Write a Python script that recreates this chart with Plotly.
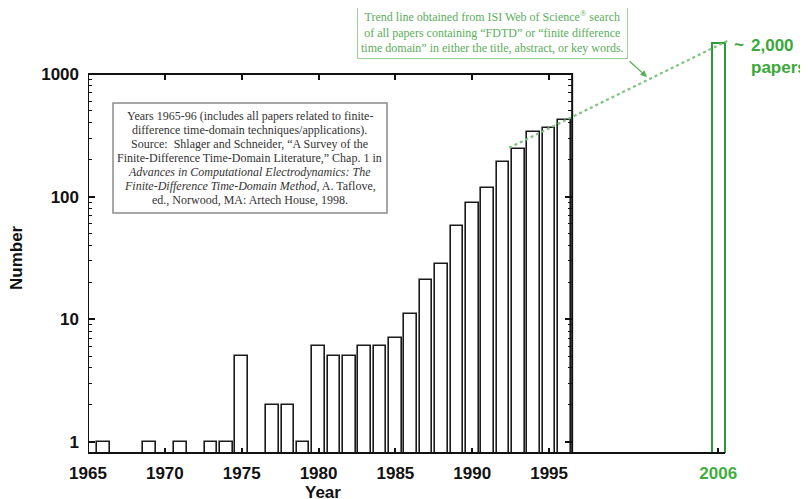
import math
import plotly.graph_objects as go

# ---------------- data ----------------
years = [1966, 1969, 1971, 1973, 1974, 1975, 1977, 1978, 1979, 1980, 1981, 1982,
         1983, 1984, 1985, 1986, 1987, 1988, 1989, 1990, 1991, 1992, 1993, 1994,
         1995, 1996]
papers = [1, 1, 1, 1, 1, 5, 2, 2, 1, 6, 5, 5,
          6, 6, 7, 11, 21, 28, 58, 88, 117, 190, 245, 338,
          365, 425]
year_2006 = [2006]
papers_2006 = [1780]
trend_x = [1992.4, 2006.7]
trend_y = [250, 1890]

x_tickvals = [1965, 1970, 1975, 1980, 1985, 1990, 1995, 2006]
x_ticktext = ["1965", "1970", "1975", "1980", "1985", "1990", "1995",
              "<span style='color:#3fae3f'>2006</span>"]
y_tickvals = [1, 10, 100, 1000]
y_ticktext = ["1", "10", "100", "1000"]
y_minor = [m * 10 ** d for d in range(0, 3) for m in range(2, 10)]

# ---------------- geometry (page pixels; page body has an 8px margin) ----------------
OFF = 8
W, H = 808 - OFF, 499 - OFF
L, R, T, B = 88, 732, 30, 453          # plot area in page pixels
PW, PH = R - L, B - T
XMIN, XMAX = 1965, 1965 + PW / 15.37
YLOW = math.log10(0.81)
YHIGH = 3 + (74 - T) / 122.6
BOX_RIGHT = 1996.5


def px_x(x):
    return (x - L) / PW


def px_y(y):
    return (B - y) / PH


GREEN = "#3aa83a"
GREEN_BAR = "#2f9a3a"
GREEN_LIGHT = "#5aae5a"
AX_FONT = dict(family="Liberation Sans, Arial", size=17, color="#111", weight="bold")

fig = go.Figure()

fig.add_trace(go.Bar(
    x=years, y=papers, width=0.82,
    marker=dict(color="white", line=dict(color="#1a1a1a", width=1.6)),
    showlegend=False, hoverinfo="x+y",
))
fig.add_trace(go.Bar(
    x=year_2006, y=papers_2006, width=0.85,
    marker=dict(color="white", line=dict(color=GREEN_BAR, width=2)),
    showlegend=False, hoverinfo="x+y",
))
fig.add_trace(go.Scatter(
    x=trend_x, y=trend_y, mode="lines",
    line=dict(color="#7cc47c", width=2.2, dash="dot"),
    showlegend=False, hoverinfo="skip",
))
# helper traces so that the extra tick axes are drawn
fig.add_trace(go.Scatter(x=[XMIN], y=[1], mode="none", yaxis="y2",
                         showlegend=False, hoverinfo="skip"))
fig.add_trace(go.Scatter(x=[XMIN], y=[1], mode="none", xaxis="x2",
                         showlegend=False, hoverinfo="skip"))

fig.update_layout(
    width=W, height=H,
    margin=dict(l=L - OFF, r=(W + OFF) - R, t=T - OFF, b=(H + OFF) - B, autoexpand=False),
    paper_bgcolor="white", plot_bgcolor="white",
    bargap=0,
    xaxis=dict(
        range=[XMIN, XMAX], showgrid=False, zeroline=False, showline=False,
        ticks="inside", ticklen=5, tickwidth=1.5, tickcolor="#111",
        tickmode="array", tickvals=x_tickvals, ticktext=x_ticktext,
        tickfont=AX_FONT, ticklabelstandoff=8,
    ),
    xaxis2=dict(
        range=[XMIN, XMAX], overlaying="x", side="top", anchor="free",
        position=(3 - YLOW) / (YHIGH - YLOW),
        showgrid=False, zeroline=False, showline=False,
        ticks="inside", ticklen=5, tickwidth=1.5, tickcolor="#111",
        tickmode="array", tickvals=x_tickvals[:-1], showticklabels=False,
    ),
    yaxis=dict(
        type="log", range=[YLOW, YHIGH], showgrid=False, zeroline=False,
        showline=False, ticks="inside", ticklen=7, tickwidth=1.5, tickcolor="#111",
        tickmode="array", tickvals=y_tickvals, ticktext=y_ticktext,
        tickfont=AX_FONT, ticklabelstandoff=8,
        minor=dict(ticks="inside", ticklen=4, tickwidth=1, tickcolor="#111",
                   tickmode="array", tickvals=y_minor, showgrid=False),
    ),
    yaxis2=dict(
        type="log", range=[YLOW, YHIGH], overlaying="y", side="right",
        anchor="free", position=(BOX_RIGHT - XMIN) / (XMAX - XMIN),
        showgrid=False, zeroline=False, showline=False,
        ticks="inside", ticklen=7, tickwidth=1.5, tickcolor="#111",
        tickmode="array", tickvals=y_tickvals, showticklabels=False,
        minor=dict(ticks="inside", ticklen=4, tickwidth=1, tickcolor="#111",
                   tickmode="array", tickvals=y_minor, showgrid=False),
    ),
)

# axis box and extended baseline
fig.add_shape(type="rect", xref="x", yref="paper", x0=XMIN, x1=BOX_RIGHT,
              y0=0, y1=px_y(74), line=dict(color="#111", width=2), layer="above")
fig.add_shape(type="line", xref="x", yref="paper", x0=BOX_RIGHT, x1=2006.45,
              y0=0, y1=0, line=dict(color="#111", width=2), layer="above")

# axis titles
fig.add_annotation(text="<b>Year</b>", xref="paper", yref="paper",
                   x=px_x(323), y=px_y(493), showarrow=False,
                   font=dict(family="Liberation Sans, Arial", size=17, color="#111"),
                   xanchor="center", yanchor="middle")
fig.add_annotation(text="<b>Number</b>", xref="paper", yref="paper",
                   x=px_x(16), y=px_y(258), showarrow=False, textangle=-90,
                   font=dict(family="Liberation Sans, Arial", size=17, color="#111"),
                   xanchor="center", yanchor="middle")

# source text box
src_lines = [
    "Years 1965-96 (includes all papers related to finite-",
    "difference time-domain techniques/applications).",
    "Source:  Shlager and Schneider, \u201cA Survey of the",
    "Finite-Difference Time-Domain Literature,\u201d Chap. 1 in",
    "<i>Advances in Computational Electrodynamics: The</i>",
    "<i>Finite-Difference Time-Domain Method</i>, A. Taflove,",
    "ed., Norwood, MA: Artech House, 1998.",
]
fig.add_shape(type="rect", xref="paper", yref="paper",
              x0=px_x(113), x1=px_x(387), y0=px_y(213), y1=px_y(103),
              line=dict(color="#8a8a8a", width=1.5), fillcolor="white", layer="above")
for i, ln in enumerate(src_lines):
    fig.add_annotation(text=ln, xref="paper", yref="paper",
                       x=px_x(250), y=px_y(116 + 14 * i), showarrow=False,
                       xanchor="center", yanchor="middle",
                       font=dict(family="Liberation Serif, Times New Roman", size=12,
                                 color="#333"))

# trend-line callout
fig.add_annotation(
    text=("Trend line obtained from ISI Web of Science<sup>\u00ae</sup> search<br>"
          "of all papers containing \u201cFDTD\u201d or \u201cfinite difference<br>"
          "time domain\u201d in either the title, abstract, or key words."),
    xref="paper", yref="paper", x=px_x(628), y=px_y(5),
    xanchor="right", yanchor="top", showarrow=False, align="center",
    bordercolor="#9ad29a", borderwidth=1, borderpad=3, bgcolor="white",
    font=dict(family="Liberation Serif, Times New Roman", size=12, color=GREEN_LIGHT),
)
fig.add_annotation(text="", xref="paper", yref="paper",
                   x=px_x(647), y=px_y(77), ax=-19, ay=-17,
                   showarrow=True, arrowhead=2, arrowsize=1, arrowwidth=1.3,
                   arrowcolor=GREEN_LIGHT)

# ~2,000 papers
fig.add_annotation(text="<b>~</b>", xref="paper", yref="paper",
                   x=px_x(732), y=px_y(44), showarrow=False,
                   xanchor="left", yanchor="middle",
                   font=dict(family="Liberation Sans, Arial", size=17, color=GREEN))
fig.add_annotation(text="<b>2,000<br>papers</b>", xref="paper", yref="paper",
                   x=px_x(749), y=px_y(34), showarrow=False,
                   xanchor="left", yanchor="top", align="left",
                   font=dict(family="Liberation Sans, Arial", size=17, color=GREEN))

fig.write_html("out.html")
